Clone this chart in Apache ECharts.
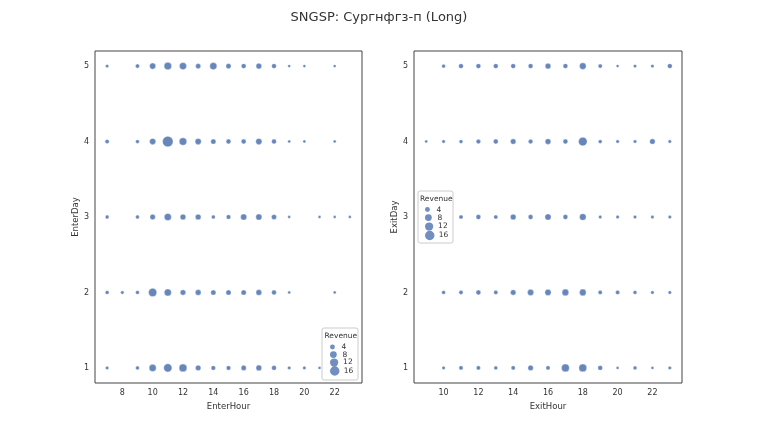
<!DOCTYPE html>
<html>
<head>
<meta charset="utf-8">
<script src="https://cdn.jsdelivr.net/npm/echarts@6/dist/echarts.min.js"></script>
<style>html,body{margin:0;padding:0;background:#fff}#c{width:758px;height:430px}</style>
</head>
<body>
<div id="c"></div>
<script>
const titleText = 'SNGSP: Сургнфгз-п (Long)';
const leftXTicks = [8, 10, 12, 14, 16, 18, 20, 22];
const rightXTicks = [10, 12, 14, 16, 18, 20, 22];
const yTicks = [1, 2, 3, 4, 5];
const legendValues = [4, 8, 12, 16];

// Left panel: EnterHour vs EnterDay
const enterDay5Hours = [7, 9, 10, 11, 12, 13, 14, 15, 16, 17, 18, 19, 20, 22];
const enterDay5Revenue = [1.5, 2.5, 6, 9, 8, 4, 8, 4, 3.5, 5, 3.5, 1, 1, 1];
const enterDay4Hours = [7, 9, 10, 11, 12, 13, 14, 15, 16, 17, 18, 19, 20, 22];
const enterDay4Revenue = [2.5, 2, 6, 18, 9, 6, 4, 3.5, 3.5, 6, 3.5, 1, 1, 1];
const enterDay3Hours = [7, 9, 10, 11, 12, 13, 14, 15, 16, 17, 18, 19, 21, 22, 23];
const enterDay3Revenue = [2, 2, 4.5, 8, 5, 5, 2, 3, 6, 6, 4, 1, 1, 1, 1];
const enterDay2Hours = [7, 8, 9, 10, 11, 12, 13, 14, 15, 16, 17, 18, 19, 22];
const enterDay2Revenue = [2, 1.5, 2, 11, 8, 4.5, 5, 4, 4, 4, 5, 3.5, 1, 1];
const enterDay1Hours = [7, 9, 10, 11, 12, 13, 14, 15, 16, 17, 18, 19, 20, 21];
const enterDay1Revenue = [1.5, 2, 8, 11, 10, 4.5, 3, 3, 4, 5, 3.5, 1.5, 1.5, 1];

// Right panel: ExitHour vs ExitDay
const exitDay5Hours = [10, 11, 12, 13, 14, 15, 16, 17, 18, 19, 20, 21, 22, 23];
const exitDay5Revenue = [2, 3.5, 3.5, 3.5, 3.5, 3.5, 5, 3.5, 7, 2.5, 1, 1.5, 1.5, 3.5];
const exitDay4Hours = [9, 10, 11, 12, 13, 14, 15, 16, 17, 18, 19, 20, 21, 22, 23];
const exitDay4Revenue = [1, 1.5, 2, 3, 3.5, 4.5, 3, 5, 3.5, 12, 2, 1.5, 1.5, 4.5, 1.5];
const exitDay3Hours = [11, 12, 13, 14, 15, 16, 17, 18, 19, 20, 21, 22, 23];
const exitDay3Revenue = [2.5, 3.5, 2.5, 5, 3.5, 6, 3.5, 7, 1.5, 1.5, 1.5, 1.5, 1.5];
const exitDay2Hours = [10, 11, 12, 13, 14, 15, 16, 17, 18, 19, 20, 21, 22, 23];
const exitDay2Revenue = [2, 2.5, 3.5, 2.5, 4.5, 6, 6, 7, 7, 2.5, 2.5, 2, 1.5, 1.5];
const exitDay1Hours = [10, 11, 12, 13, 14, 15, 16, 17, 18, 19, 20, 21, 22, 23];
const exitDay1Revenue = [1.5, 2.5, 2.5, 2, 2.5, 4.5, 2.5, 10, 10, 3.5, 1, 2, 1, 1.5];

const BLUE = '#4c72b0';
function sizeOf(v) { return Math.sqrt(2.5 + 6 * v); }
function rows(list) {
  const out = [];
  list.forEach(([day, hours, rev]) => {
    hours.forEach((h, i) => out.push([h, day, rev[i]]));
  });
  return out;
}
const enterData = rows([
  [5, enterDay5Hours, enterDay5Revenue], [4, enterDay4Hours, enterDay4Revenue],
  [3, enterDay3Hours, enterDay3Revenue], [2, enterDay2Hours, enterDay2Revenue],
  [1, enterDay1Hours, enterDay1Revenue]
]);
const exitData = rows([
  [5, exitDay5Hours, exitDay5Revenue], [4, exitDay4Hours, exitDay4Revenue],
  [3, exitDay3Hours, exitDay3Revenue], [2, exitDay2Hours, exitDay2Revenue],
  [1, exitDay1Hours, exitDay1Revenue]
]);

const FONT = 'DejaVu Sans';
const txt = { color: '#333', fontFamily: FONT, fontSize: 8 };

function xAxis(gi, min, max, ticks, name) {
  return {
    type: 'value', gridIndex: gi, min: min, max: max,
    name: name, nameLocation: 'middle', nameGap: 15,
    nameTextStyle: { color: '#333', fontFamily: FONT, fontSize: 8.5 },
    axisLine: { show: false }, axisTick: { show: false }, splitLine: { show: false },
    axisLabel: Object.assign({ customValues: ticks, margin: 6 }, txt)
  };
}
function yAxis(gi, name) {
  return {
    type: 'value', gridIndex: gi, min: 0.8, max: 5.2,
    name: name, nameLocation: 'middle', nameGap: 14,
    nameTextStyle: { color: '#333', fontFamily: FONT, fontSize: 8.5 },
    axisLine: { show: false }, axisTick: { show: false }, splitLine: { show: false },
    axisLabel: Object.assign({ customValues: yTicks, margin: 6 }, txt)
  };
}
const itemStyle = { color: BLUE, opacity: 0.85, borderColor: '#fff', borderWidth: 0.4 };

const series = [
  { type: 'scatter', xAxisIndex: 0, yAxisIndex: 0, data: enterData,
    symbol: 'circle', symbolSize: v => sizeOf(v[2]), itemStyle: itemStyle },
  { type: 'scatter', xAxisIndex: 1, yAxisIndex: 1, data: exitData,
    symbol: 'circle', symbolSize: v => sizeOf(v[2]), itemStyle: itemStyle }
];
legendValues.forEach(v => {
  series.push({ type: 'scatter', name: String(v), xAxisIndex: 0, yAxisIndex: 0, data: [],
    symbol: 'circle', itemStyle: { color: BLUE } });
});

function legendsAt(iconCx, ys) {
  return legendValues.map((v, i) => {
    const d = Math.sqrt(2 + 5.5 * v);
    return {
      data: [String(v)], orient: 'vertical', icon: 'circle',
      left: iconCx - 5, top: ys[i] - d / 2, padding: 0,
      itemWidth: 10, itemHeight: d, itemGap: 0, selectedMode: false,
      textStyle: { color: '#333', fontFamily: FONT, fontSize: 7.5, padding: [0, 0, 0, -1] }
    };
  });
}

const option = {
  backgroundColor: '#fff',
  animation: false,
  title: [
    { text: titleText, left: 'center', top: 6,
      textStyle: { color: '#333', fontFamily: FONT, fontSize: 13, fontWeight: 'normal' } },
    { text: 'Revenue', left: 324.5, top: 332, padding: 0,
      textStyle: { color: '#333', fontFamily: FONT, fontSize: 7.5, fontWeight: 'normal' } },
    { text: 'Revenue', left: 420, top: 195, padding: 0,
      textStyle: { color: '#333', fontFamily: FONT, fontSize: 7.5, fontWeight: 'normal' } }
  ],
  graphic: [
    { type: 'rect', shape: { x: 322, y: 328, width: 36, height: 52, r: 2 },
      style: { fill: '#fff', stroke: '#ccc', lineWidth: 1 }, z: 3 },
    { type: 'rect', shape: { x: 418, y: 191, width: 35, height: 52, r: 2 },
      style: { fill: '#fff', stroke: '#ccc', lineWidth: 1 }, z: 3 }
  ],
  grid: [
    { left: 95, top: 51, width: 267, height: 332, show: true, borderColor: '#444', borderWidth: 1, backgroundColor: 'transparent' },
    { left: 414, top: 51, width: 268, height: 332, show: true, borderColor: '#444', borderWidth: 1, backgroundColor: 'transparent' }
  ],
  xAxis: [xAxis(0, 6.2, 23.8, leftXTicks, 'EnterHour'), xAxis(1, 8.3, 23.7, rightXTicks, 'ExitHour')],
  yAxis: [yAxis(0, 'EnterDay'), yAxis(1, 'ExitDay')],
  legend: legendsAt(335, [345.5, 354, 362.5, 371]).concat(legendsAt(430, [208, 217, 226.5, 235.5])),
  series: series
};
const chart = echarts.init(document.getElementById('c'), null, { renderer: 'canvas' });
chart.setOption(option);
</script>
</body>
</html>
